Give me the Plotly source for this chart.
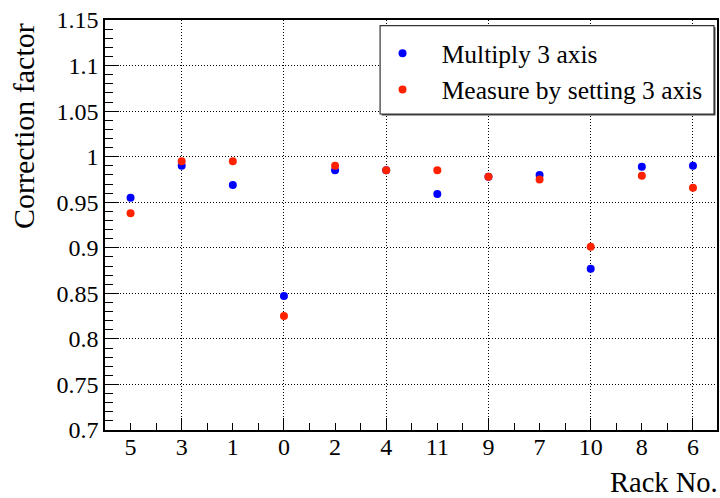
import plotly.graph_objects as go

# Rack numbers in plotting order
racks = ["5", "3", "1", "0", "2", "4", "11", "9", "7", "10", "8", "6"]

# Correction factors per rack
multiply_3axis = [0.955, 0.990, 0.969, 0.847, 0.985, 0.985,
                  0.959, 0.978, 0.980, 0.877, 0.989, 0.990]
measure_3axis = [0.938, 0.995, 0.995, 0.825, 0.990, 0.985,
                 0.985, 0.978, 0.975, 0.901, 0.979, 0.966]

FONT = "'Times New Roman', 'Liberation Serif', 'DejaVu Serif', serif"
PAD = "\u00a0" * 3
idx = list(range(len(racks)))

fig = go.Figure()
fig.add_trace(go.Scatter(
    x=idx, y=multiply_3axis, mode="markers", name=PAD + "Multiply 3 axis",
    marker=dict(color="#0000ff", size=8, line=dict(width=0)),
    legendgroup="a",
))
fig.add_trace(go.Scatter(
    x=idx, y=measure_3axis, mode="markers", name=PAD + "Measure by setting 3 axis",
    marker=dict(color="#ff2200", size=8, line=dict(width=0)),
    legendgroup="b",
))

# long ticks + grid only on every second rack (overlay axis)
fig.add_trace(go.Scatter(x=[idx[0]], y=[None], xaxis="x2", showlegend=False,
                         hoverinfo="skip"))

half_steps = [i / 2 - 0.5 for i in range(0, 2 * len(racks) + 1)]

# legend frame with a drop shadow (paper coordinates)
box = dict(x0=0.4495, x1=0.9951, y0=0.7707, y1=0.9861)
sx, sy = 1.5 / 614, 1.5 / 410
shapes = [
    dict(type="rect", xref="paper", yref="paper", layer="above",
         x0=box["x0"] + sx, x1=box["x1"] + sx, y0=box["y0"] - sy, y1=box["y1"] - sy,
         fillcolor="#444444", line=dict(width=0)),
    dict(type="rect", xref="paper", yref="paper", layer="above",
         x0=box["x0"], x1=box["x1"], y0=box["y0"], y1=box["y1"],
         fillcolor="white", line=dict(color="#333333", width=1.2)),
]

fig.update_layout(
    width=720, height=498,
    margin=dict(l=105, r=1, t=20, b=68),
    paper_bgcolor="white", plot_bgcolor="white",
    font=dict(family=FONT, color="black", size=24),
    showlegend=True,
    shapes=shapes,
    legend=dict(
        x=0.4535, y=0.975, xanchor="left", yanchor="top",
        bgcolor="rgba(0,0,0,0)", borderwidth=0,
        font=dict(family=FONT, size=25.5, color="black"),
        tracegroupgap=0,
    ),
    xaxis=dict(
        range=[-0.5, 11.47],
        tickmode="array", tickvals=idx, ticktext=racks,
        ticks="inside", ticklen=7, tickwidth=1, tickcolor="black",
        showgrid=False, zeroline=False,
        showline=True, linecolor="black", linewidth=1.5, mirror=True,
        tickfont=dict(family=FONT, size=24), ticklabelstandoff=-6,
        minor=dict(tickmode="array", tickvals=half_steps, ticks="inside",
                   ticklen=7, tickcolor="black", showgrid=False),
    ),
    xaxis2=dict(
        overlaying="x", matches="x", side="bottom",
        tickmode="array", tickvals=idx[1::2],
        showticklabels=False, ticks="inside", ticklen=12, tickwidth=1,
        tickcolor="black",
        showgrid=True, gridcolor="black", griddash="1px,2px", gridwidth=1,
        zeroline=False, showline=False,
    ),
    yaxis=dict(
        range=[0.7, 1.15],
        tickmode="array",
        tickvals=[0.7, 0.75, 0.8, 0.85, 0.9, 0.95, 1.0, 1.05, 1.1, 1.15],
        ticktext=["0.7", "0.75", "0.8", "0.85", "0.9", "0.95", "1", "1.05", "1.1", "1.15"],
        ticks="inside", ticklen=14, tickwidth=1, tickcolor="black",
        showgrid=True, gridcolor="black", griddash="1px,2px", gridwidth=1,
        zeroline=False,
        showline=True, linecolor="black", linewidth=1.5, mirror=True,
        tickfont=dict(family=FONT, size=24),
        minor=dict(dtick=0.01, tick0=0.7, ticks="inside", ticklen=8,
                   tickcolor="black", showgrid=False),
    ),
    annotations=[
        dict(text="Correction factor", xref="paper", yref="paper",
             x=0, y=1, xanchor="center", yanchor="top", xshift=-82, yshift=-1,
             textangle=-90, showarrow=False,
             font=dict(family=FONT, size=30, color="black")),
        dict(text="Rack No.", xref="paper", yref="paper",
             x=1, y=0, xanchor="right", yanchor="middle", xshift=3, yshift=-52,
             showarrow=False,
             font=dict(family=FONT, size=28.5, color="black")),
    ],
)

fig.write_html("out.html")
